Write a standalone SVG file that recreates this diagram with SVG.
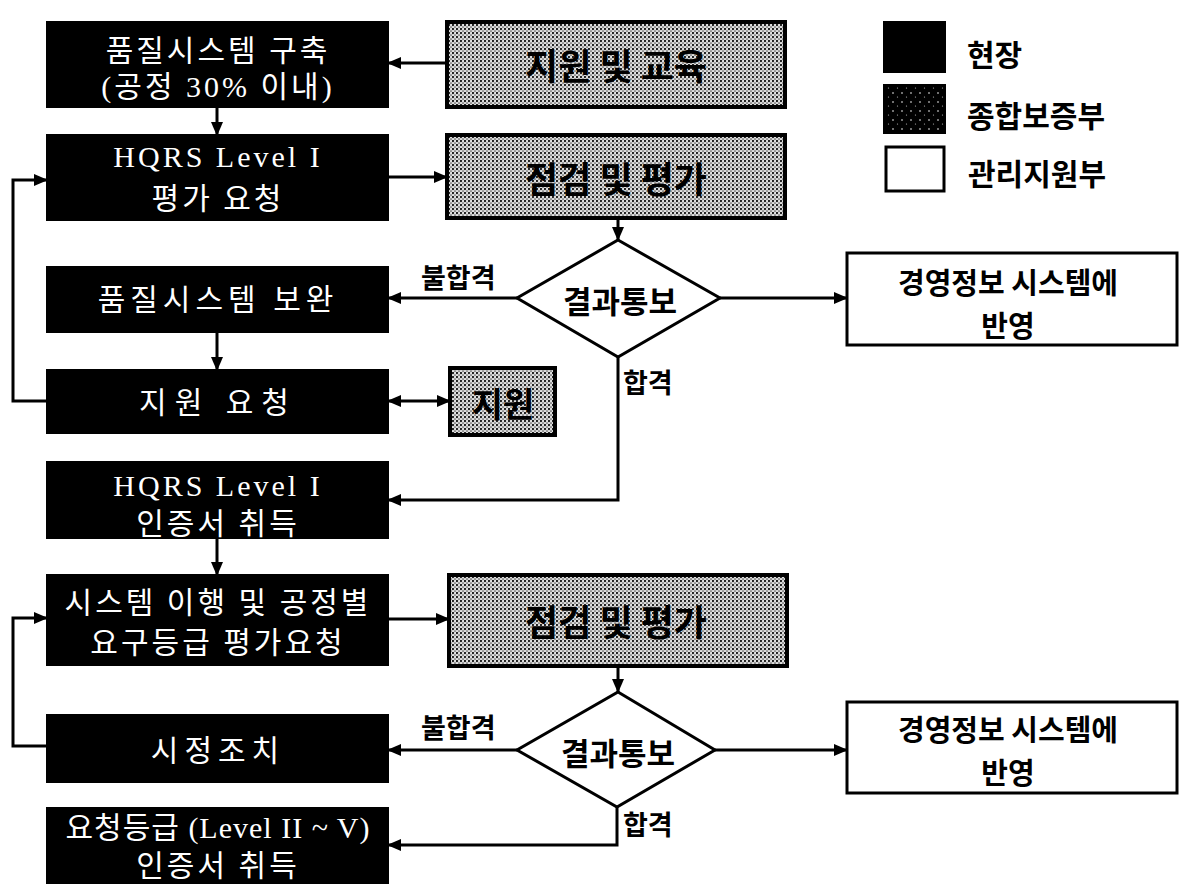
<svg xmlns="http://www.w3.org/2000/svg" width="1180" height="884" viewBox="0 0 1180 884">
  <style>
    .field { fill: #000; stroke: #000; stroke-width: 2; }
    .qa { fill: url(#halftone); stroke: #000; stroke-width: 4; }
    .admin { fill: #fff; stroke: #000; stroke-width: 3; }
    .decision { fill: #fff; stroke: #000; stroke-width: 3; }
    .wt { fill: #fff; font-family: "Liberation Serif", "Noto Sans CJK KR", serif; font-size: 30px; text-anchor: middle; dominant-baseline: central; letter-spacing: 3px; }
    .bt { fill: #000; font-family: "Noto Sans CJK KR", "Liberation Sans", sans-serif; font-weight: 700; text-anchor: middle; dominant-baseline: central; }
    .lg { fill: #000; font-family: "Noto Sans CJK KR", "Liberation Sans", sans-serif; font-weight: 700; font-size: 30px; dominant-baseline: central; }
    .conn path { fill: none; stroke: #000; stroke-width: 3; }
    .lbl { fill: #000; font-family: "Noto Sans CJK KR", "Liberation Sans", sans-serif; font-weight: 700; font-size: 27px; dominant-baseline: central; }
  </style>
  <defs>
    <pattern id="halftone" width="4" height="4" patternUnits="userSpaceOnUse">
      <rect width="4" height="4" fill="#e0e0e0"/>
      <circle cx="1" cy="1" r="1.15" fill="#1a1a1a"/>
      <circle cx="3" cy="3" r="0.85" fill="#555"/>
    </pattern>
    <pattern id="darkdots" width="9" height="9" patternUnits="userSpaceOnUse">
      <rect width="9" height="9" fill="#000"/>
      <circle cx="2" cy="3" r="0.8" fill="#fff"/>
      <circle cx="6.5" cy="7" r="0.6" fill="#bbb"/>
    </pattern>
    <marker id="arrow" markerUnits="userSpaceOnUse" markerWidth="14" markerHeight="12" viewBox="0 0 14 12" refX="13" refY="6" orient="auto-start-reverse">
      <path d="M0,0 L14,6 L0,12 Z" fill="#000"/>
    </marker>
  </defs>

  <rect width="1180" height="884" fill="#fff"/>

  <!-- legend -->
  <g id="legend">
    <rect x="884" y="22" width="61" height="50" fill="#000" stroke="#000" stroke-width="2"/>
    <text class="lg" x="967" y="53">현장</text>
    <rect x="884" y="85" width="61" height="48" fill="url(#darkdots)" stroke="#000" stroke-width="2"/>
    <text class="lg" x="967" y="114">종합보증부</text>
    <rect x="886" y="147" width="58" height="44" fill="#fff" stroke="#000" stroke-width="3"/>
    <text class="lg" x="968" y="172">관리지원부</text>
  </g>

  <!-- connectors -->
  <g id="connectors" class="conn">
    <path d="M447,63 L388,63" marker-end="url(#arrow)"/>
    <path d="M217,107 L217,135" marker-end="url(#arrow)"/>
    <path d="M388,177 L447,177" marker-end="url(#arrow)"/>
    <path d="M618,218 L618,240" marker-end="url(#arrow)"/>
    <path d="M517,298 L388,298" marker-end="url(#arrow)"/>
    <path d="M720,298 L847,298" marker-end="url(#arrow)"/>
    <path d="M217,332 L217,370" marker-end="url(#arrow)"/>
    <path d="M388,401 L450,401" marker-start="url(#arrow)" marker-end="url(#arrow)"/>
    <path d="M47,401 L13,401 L13,180 L47,180" marker-end="url(#arrow)"/>
    <path d="M618,357 L618,500 L388,500" marker-end="url(#arrow)"/>
    <path d="M217,538 L217,575" marker-end="url(#arrow)"/>
    <path d="M388,619 L449,619" marker-end="url(#arrow)"/>
    <path d="M618,666 L618,692" marker-end="url(#arrow)"/>
    <path d="M517,750 L388,750" marker-end="url(#arrow)"/>
    <path d="M715,750 L847,750" marker-end="url(#arrow)"/>
    <path d="M47,746 L13,746 L13,618 L47,618" marker-end="url(#arrow)"/>
    <path d="M617,807 L617,845 L388,845" marker-end="url(#arrow)"/>
    <text class="lbl" x="421" y="276">불합격</text>
    <text class="lbl" x="623" y="381">합격</text>
    <text class="lbl" x="421" y="726">불합격</text>
    <text class="lbl" x="623" y="823">합격</text>
  </g>

  <!-- field (black) nodes -->
  <g id="build-system">
    <rect class="field" x="47" y="22" width="341" height="85"/>
    <text class="wt" x="218" y="50">품질시스템 구축</text>
    <text class="wt" x="218" y="86">(공정 30% 이내)</text>
  </g>
  <g id="level1-request">
    <rect class="field" x="47" y="135" width="341" height="85"/>
    <text class="wt" x="218" y="156">HQRS Level I</text>
    <text class="wt" x="218" y="198">평가 요청</text>
  </g>
  <g id="system-fix">
    <rect class="field" x="47" y="267" width="341" height="65"/>
    <text class="wt" x="218" y="299" style="letter-spacing:5px">품질시스템 보완</text>
  </g>
  <g id="support-request">
    <rect class="field" x="47" y="370" width="341" height="63"/>
    <text class="wt" x="218" y="402" style="letter-spacing:8px">지원 요청</text>
  </g>
  <g id="level1-cert">
    <rect class="field" x="47" y="462" width="341" height="76"/>
    <text class="wt" x="218" y="485">HQRS Level I</text>
    <text class="wt" x="218" y="523">인증서 취득</text>
  </g>
  <g id="grade-request">
    <rect class="field" x="47" y="575" width="341" height="90"/>
    <text class="wt" x="218" y="602">시스템 이행 및 공정별</text>
    <text class="wt" x="218" y="642">요구등급 평가요청</text>
  </g>
  <g id="corrective">
    <rect class="field" x="47" y="715" width="341" height="67"/>
    <text class="wt" x="218" y="750" style="letter-spacing:6px">시정조치</text>
  </g>
  <g id="grade-cert">
    <rect class="field" x="47" y="808" width="341" height="84"/>
    <text class="wt" x="218" y="827" style="letter-spacing:1px">요청등급 (Level II ~ V)</text>
    <text class="wt" x="218" y="865">인증서 취득</text>
  </g>

  <!-- quality assurance (halftone) nodes -->
  <g id="support-training">
    <rect class="qa" x="447" y="22" width="338" height="85"/>
    <text class="bt" x="616" y="64" font-size="36">지원 및 교육</text>
  </g>
  <g id="inspect-1">
    <rect class="qa" x="447" y="135" width="338" height="83"/>
    <text class="bt" x="616" y="177" font-size="36">점검 및 평가</text>
  </g>
  <g id="support">
    <rect class="qa" x="450" y="368" width="105" height="67"/>
    <text class="bt" x="503" y="402" font-size="34">지원</text>
  </g>
  <g id="inspect-2">
    <rect class="qa" x="449" y="575" width="338" height="91"/>
    <text class="bt" x="616" y="620" font-size="36">점검 및 평가</text>
  </g>

  <!-- decisions -->
  <g id="result-1">
    <polygon class="decision" points="618,240 720,298 618,357 517,298"/>
    <text class="bt" x="620" y="299" font-size="31">결과통보</text>
  </g>
  <g id="result-2">
    <polygon class="decision" points="618,692 715,750 617,807 517,750"/>
    <text class="bt" x="618" y="751" font-size="31">결과통보</text>
  </g>

  <!-- admin (white) nodes -->
  <g id="mis-1">
    <rect class="admin" x="847" y="253" width="330" height="92"/>
    <text class="bt" x="1008" y="281" font-size="29">경영정보 시스템에</text>
    <text class="bt" x="1008" y="324" font-size="29">반영</text>
  </g>
  <g id="mis-2">
    <rect class="admin" x="847" y="702" width="330" height="91"/>
    <text class="bt" x="1008" y="728" font-size="29">경영정보 시스템에</text>
    <text class="bt" x="1008" y="771" font-size="29">반영</text>
  </g>
</svg>
